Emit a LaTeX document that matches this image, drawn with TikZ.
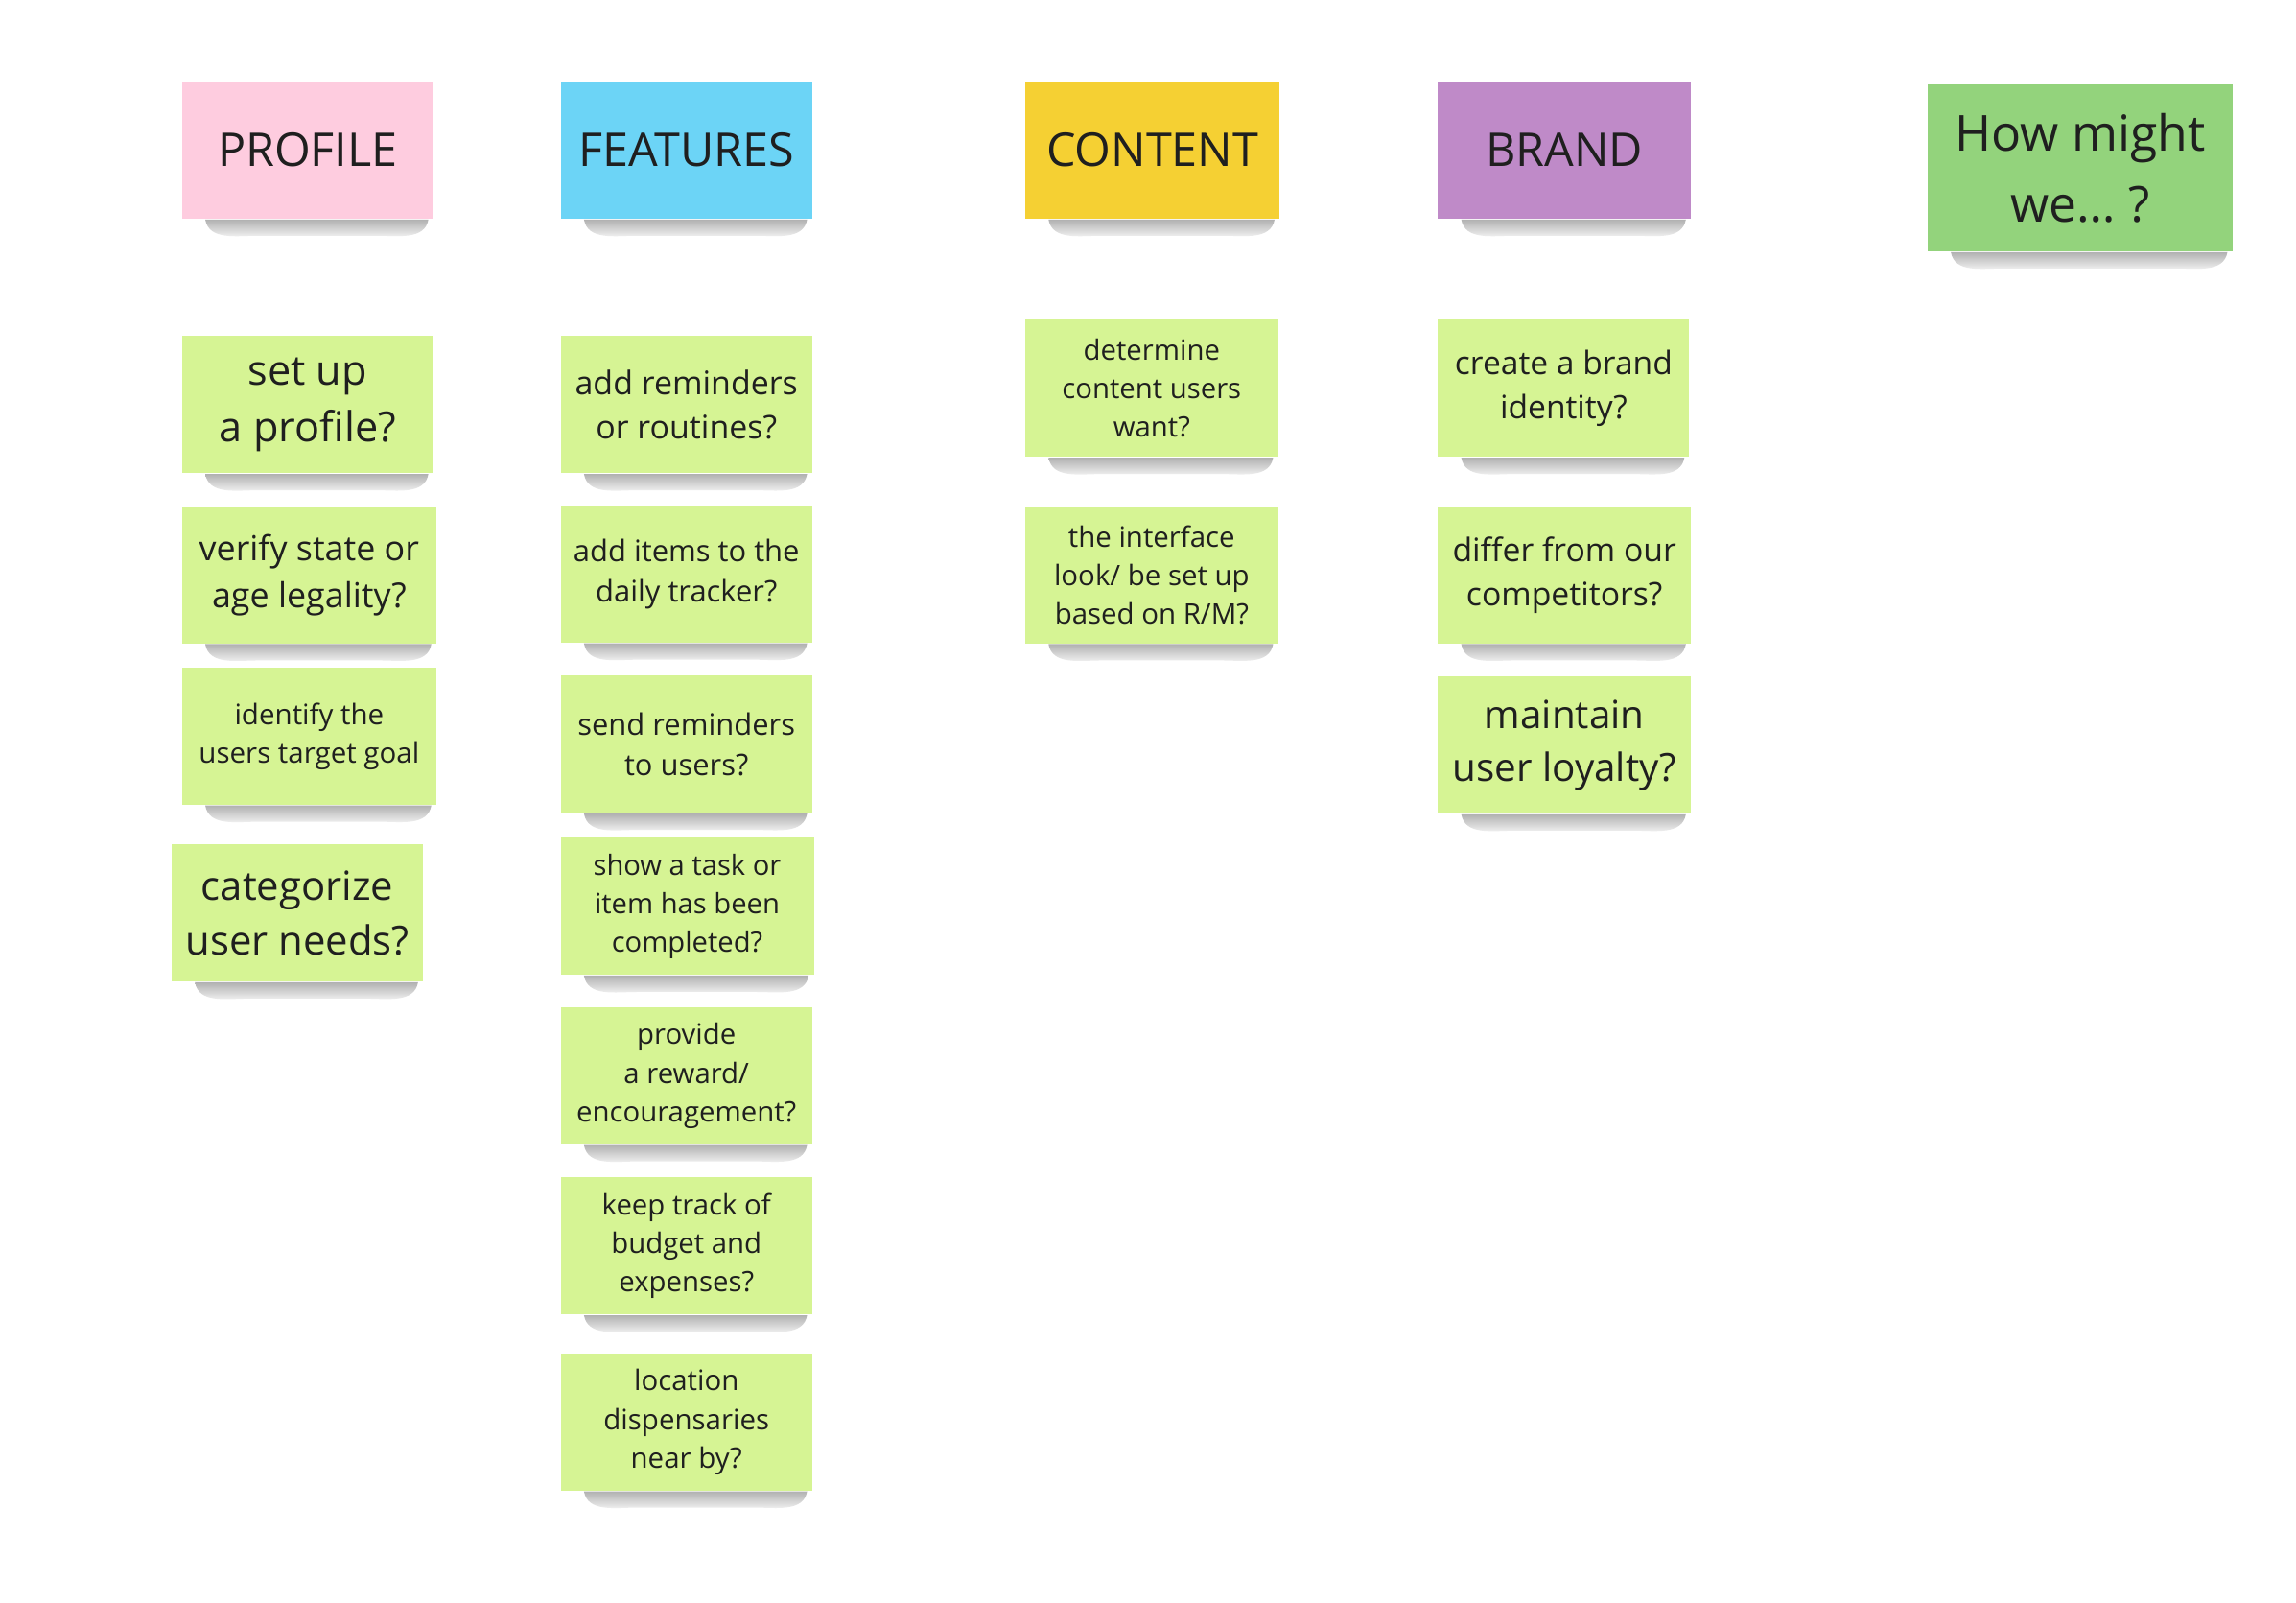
\documentclass[tikz,border=0pt]{standalone}
\usepackage{fontspec}
\setmainfont{Open Sans}
\usepackage{tikz}

\definecolor{pinknote}{HTML}{FECCDF}
\definecolor{bluenote}{HTML}{6CD4F6}
\definecolor{yellownote}{HTML}{F5D033}
\definecolor{purplenote}{HTML}{BF8AC8}
\definecolor{greennote}{HTML}{93D37C}
\definecolor{leaf}{HTML}{D6F494}

\tikzset{
  note/.style={rectangle, fill=leaf, text=black!88, align=center, inner sep=0pt,
    minimum width=2.62cm, minimum height=1.43cm},
  head/.style={note, font=\fontsize{13.8}{18.8}\selectfont}
}

\newcommand\noteshadow[1]{%
  \shade[top color=black!38, bottom color=white, opacity=0.8]
    ([xshift=0.25cm]#1.south west) -- ([xshift=-0.06cm]#1.south east)
    to[out=-100,in=0] ([xshift=-0.6cm,yshift=-0.17cm]#1.south east)
    -- ([xshift=0.8cm,yshift=-0.17cm]#1.south west)
    to[out=180,in=-80] ([xshift=0.25cm]#1.south west) -- cycle;}

\begin{document}
\begin{tikzpicture}[x=0.015425cm, y=-0.015425cm]
\fill[white] (0,0) rectangle (1552,1082.7);
\useasboundingbox (0,0) rectangle (1552,1082.7);

% shadow anchors first, notes on top
\foreach \n/\x/\y/\w in {profile/208/101.5/170,features/464/101.5/170,content/779/101.5/172,brand/1057.5/101.5/171,
  p1/208/273.5/170,p2/209/388.5/172,p3/209/497.5/172,p4/201/617/170,
  f1/464/273.5/170,f2/464/388/170,f3/464/503/170,f4/464.5/612.5/171,f5/464/727/170,f6/464/842/170,f7/464/961/170,
  c1/778.5/262.5/171,c2/778.5/388.5/171,b1/1057/262.5/170,b2/1057.5/388.5/171,b3/1057.5/503.5/171}
  {\node[minimum width=\w*0.015425cm, minimum height=1.43cm, inner sep=0pt] (s\n) at (\x,\y) {};
   \noteshadow{s\n}}
\node[minimum width=3.18cm, minimum height=1.74cm, inner sep=0pt] (shmw) at (1406,113.5) {};
\noteshadow{shmw}

% headers
\node[head, fill=pinknote] (profile) at (208,101.5) {PROFILE};
\node[head, fill=bluenote] (features) at (464,101.5) {FEATURES};
\node[head, fill=yellownote, minimum width=2.65cm] (content) at (779,101.5) {CONTENT};
\node[head, fill=purplenote, minimum width=2.64cm] (brand) at (1057.5,101.5) {BRAND};
\node[note, fill=greennote, minimum width=3.18cm, minimum height=1.74cm,
  font=\fontsize{14.7}{21}\selectfont] (hmw) at (1406,113.5) {How might\\we… ?};

% profile
\node[note, font=\fontsize{12.3}{16.7}\selectfont] (p1) at (208,273.5) {set up\\a profile?};
\node[note, minimum width=2.65cm, font=\fontsize{10.2}{13.9}\selectfont] (p2) at (209,388.5) {verify state or\\age legality?};
\node[note, minimum width=2.65cm, font=\fontsize{8.4}{11.4}\selectfont] (p3) at (209,497.5) {identify the\\users target goal};
\node[note, font=\fontsize{11.9}{16.2}\selectfont] (p4) at (201,617) {categorize\\user needs?};

% features
\node[note, font=\fontsize{9.65}{13.1}\selectfont] (f1) at (464,273.5) {add reminders\\or routines?};
\node[note, font=\fontsize{8.8}{12}\selectfont] (f2) at (464,388) {add items to the\\daily tracker?};
\node[note, font=\fontsize{8.8}{12}\selectfont] (f3) at (464,503) {send reminders\\to users?};
\node[note, minimum width=2.64cm, font=\fontsize{8.3}{11.3}\selectfont] (f4) at (464.5,612.5) {show a task or\\item has been\\completed?};
\node[note, font=\fontsize{8.35}{11.4}\selectfont] (f5) at (464,727) {provide\\a reward/\\encouragement?};
\node[note, font=\fontsize{8.35}{11.4}\selectfont] (f6) at (464,842) {keep track of\\budget and\\expenses?};
\node[note, font=\fontsize{8.38}{11.4}\selectfont] (f7) at (464,961) {location\\dispensaries\\near by?};

% content
\node[note, minimum width=2.64cm, font=\fontsize{8.34}{11.4}\selectfont] (c1) at (778.5,262.5) {determine\\content users\\want?};
\node[note, minimum width=2.64cm, font=\fontsize{8.37}{11.4}\selectfont] (c2) at (778.5,388.5) {the interface\\look/ be set up\\based on R/M?};

% brand
\node[note, font=\fontsize{9.56}{13}\selectfont] (b1) at (1057,262.5) {create a brand\\identity?};
\node[note, minimum width=2.64cm, font=\fontsize{9.6}{13.1}\selectfont] (b2) at (1057.5,388.5) {differ from our\\competitors?};
\node[note, minimum width=2.64cm, font=\fontsize{11.5}{15.6}\selectfont] (b3) at (1057.5,503.5) {maintain\\user loyalty?};

\end{tikzpicture}
\end{document}
